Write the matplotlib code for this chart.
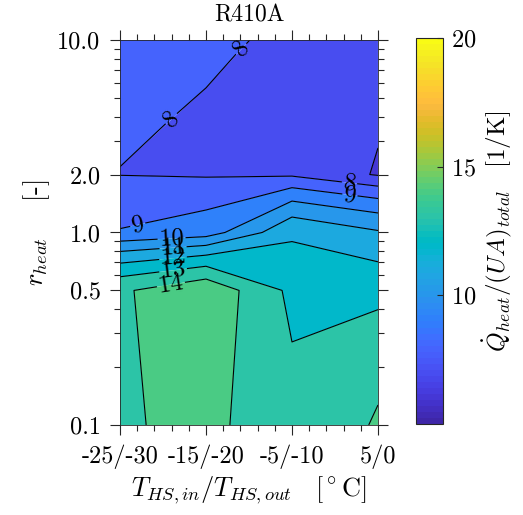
import numpy as np
import matplotlib
matplotlib.use('Agg')
import matplotlib.pyplot as plt
from matplotlib.colors import ListedColormap, Normalize
from matplotlib.ticker import MultipleLocator, LogLocator, NullFormatter

plt.rcParams['font.family'] = 'cmr10'
plt.rcParams['mathtext.fontset'] = 'cm'
plt.rcParams['axes.unicode_minus'] = False
plt.rcParams['axes.formatter.use_mathtext'] = True

# Data
temp_labels = ['-25/-30', '-15/-20', '-5/-10', '5/0']
r_heat = [0.1, 0.5, 1.0, 2.0, 10.0]
# heat flow per total UA [1/K]; rows follow r_heat, columns follow temp_labels
q_ua = [
    [13.86, 14.32, 13.17, 14.10],
    [13.85, 14.77, 12.77, 12.62],
    [9.05, 9.49, 11.80, 11.10],
    [7.98, 7.90, 7.85, 6.91],
    [8.80, 8.12, 7.885, 7.87],
]
levels = list(range(5, 21))
cbar_ticks = [10, 15, 20]

# parula (64)
parula = [
    [0.2422, 0.1504, 0.6603], [0.2504, 0.1650, 0.7076], [0.2578, 0.1818, 0.7511],
    [0.2647, 0.1978, 0.7952], [0.2706, 0.2147, 0.8364], [0.2751, 0.2342, 0.8710],
    [0.2783, 0.2559, 0.8991], [0.2803, 0.2782, 0.9221], [0.2813, 0.3006, 0.9414],
    [0.2810, 0.3228, 0.9579], [0.2795, 0.3447, 0.9717], [0.2760, 0.3667, 0.9829],
    [0.2699, 0.3892, 0.9906], [0.2602, 0.4123, 0.9952], [0.2440, 0.4358, 0.9988],
    [0.2206, 0.4603, 0.9973], [0.1963, 0.4847, 0.9892], [0.1834, 0.5074, 0.9798],
    [0.1786, 0.5289, 0.9682], [0.1764, 0.5499, 0.9520], [0.1687, 0.5703, 0.9359],
    [0.1540, 0.5902, 0.9218], [0.1460, 0.6091, 0.9079], [0.1380, 0.6276, 0.8973],
    [0.1248, 0.6459, 0.8883], [0.1113, 0.6635, 0.8763], [0.0952, 0.6798, 0.8598],
    [0.0689, 0.6948, 0.8394], [0.0297, 0.7082, 0.8163], [0.0036, 0.7203, 0.7917],
    [0.0067, 0.7312, 0.7660], [0.0433, 0.7411, 0.7394], [0.0964, 0.7500, 0.7120],
    [0.1408, 0.7584, 0.6842], [0.1717, 0.7670, 0.6554], [0.1938, 0.7758, 0.6251],
    [0.2161, 0.7843, 0.5923], [0.2470, 0.7918, 0.5567], [0.2906, 0.7973, 0.5188],
    [0.3406, 0.8008, 0.4789], [0.3909, 0.8029, 0.4354], [0.4456, 0.8024, 0.3909],
    [0.5044, 0.7993, 0.3480], [0.5616, 0.7942, 0.3045], [0.6174, 0.7876, 0.2612],
    [0.6720, 0.7793, 0.2227], [0.7242, 0.7698, 0.1910], [0.7738, 0.7598, 0.1646],
    [0.8203, 0.7498, 0.1535], [0.8634, 0.7406, 0.1596], [0.9035, 0.7330, 0.1774],
    [0.9393, 0.7288, 0.2100], [0.9728, 0.7298, 0.2394], [0.9956, 0.7434, 0.2371],
    [0.9970, 0.7659, 0.2199], [0.9952, 0.7893, 0.2028], [0.9892, 0.8136, 0.1885],
    [0.9786, 0.8386, 0.1766], [0.9676, 0.8639, 0.1643], [0.9610, 0.8890, 0.1537],
    [0.9597, 0.9135, 0.1423], [0.9628, 0.9373, 0.1265], [0.9691, 0.9606, 0.1064],
    [0.9769, 0.9839, 0.0805],
]
cmap = ListedColormap(parula)
norm = Normalize(vmin=levels[0], vmax=levels[-1])

x = np.arange(len(temp_labels))
Z = np.array(q_ua)

fig = plt.figure(figsize=(5.23, 5.15), dpi=100)
ax = fig.add_axes([0.2294, 0.1748, 0.4933, 0.7476])

# MATLAB style: each band gets the colour of its lower level
fill_colors = [cmap(norm(v)) for v in levels[:-1]]
ax.contourf(x, r_heat, Z, levels=levels, colors=fill_colors, antialiased=True)
cs = ax.contour(x, r_heat, Z, levels=levels, colors='k', linewidths=0.8)
ax.set_yscale('log')
ax.set_xlim(x[0], x[-1])
ax.set_ylim(r_heat[0], r_heat[-1])

label_pos = [(0.52, 4.2), (1.4, 9.0), (2.67, 1.83), (2.67, 1.52), (0.22, 1.03),
             (0.6, 0.93), (0.62, 0.80), (0.62, 0.71), (0.62, 0.62), (0.6, 0.51)]
ax.clabel(cs, manual=label_pos, fmt=lambda v: '$%d$' % v, fontsize=18,
          inline=True, inline_spacing=1)

ax.set_xticks(x, temp_labels)
ax.xaxis.set_minor_locator(MultipleLocator(0.2))
ax.set_yticks(r_heat, ['%.1f' % r for r in r_heat])
ax.yaxis.set_minor_locator(LogLocator(base=10, subs=np.arange(2, 10)))
ax.yaxis.set_minor_formatter(NullFormatter())
ax.tick_params(which='both', direction='out', top=True, right=True,
               color='#262626', labelsize=17.5, width=0.8)
ax.tick_params(which='major', length=7, pad=7)
ax.tick_params(which='minor', length=4)
for s in ax.spines.values():
    s.set_color('#262626')
    s.set_linewidth(0.6)

ax.set_title('R410A', fontsize=17, pad=13)
ax.set_xlabel(r'$T_{HS,in}/T_{HS,out}\quad[^\circ\mathrm{C}]$', fontsize=19, labelpad=4)
ax.set_ylabel(r'$r_{heat}$' + '    [-]', fontsize=19, labelpad=4)

cax = fig.add_axes([0.7954, 0.1767, 0.0516, 0.7495])
sm = plt.cm.ScalarMappable(norm=norm, cmap=cmap)
cb = fig.colorbar(sm, cax=cax, ticks=cbar_ticks)
cb.ax.tick_params(direction='in', length=4, labelsize=17.5, color='#262626', pad=6)
cb.outline.set_edgecolor('#262626')
cb.set_label(r'$\dot{Q}_{heat}/(UA)_{total}\quad[1/\mathrm{K}]$', fontsize=18, labelpad=3)

fig.savefig('out.png', dpi=100)
